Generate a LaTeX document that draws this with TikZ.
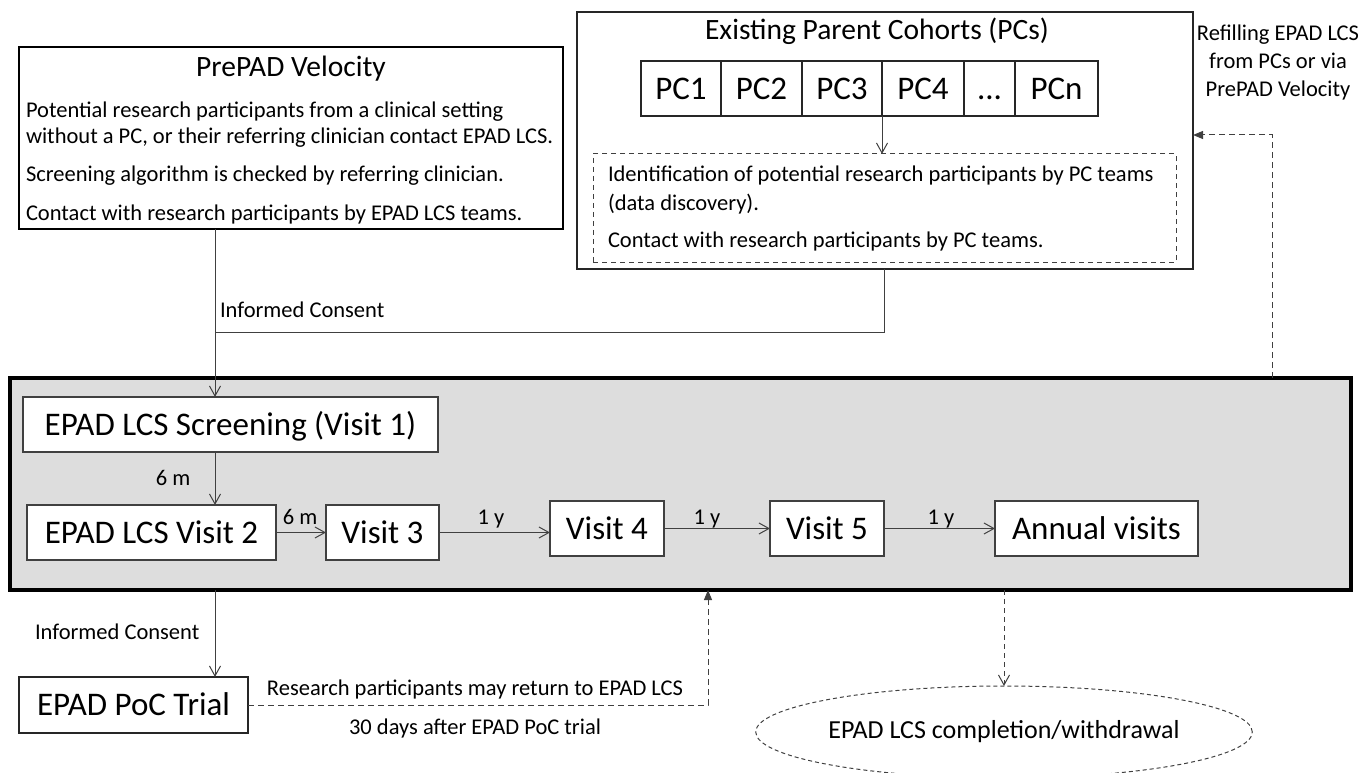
\documentclass[tikz,border=0pt]{standalone}
\usepackage{fontspec}
\setmainfont{Carlito}
\usetikzlibrary{arrows.meta,shapes.geometric,calc}
\definecolor{lc}{HTML}{404040}
\definecolor{gfill}{HTML}{DDDDDD}
\begin{document}
\begin{tikzpicture}[x=1pt,y=-1pt,
  every node/.style={inner sep=0pt,outer sep=0pt},
  txt/.style={font=\fontsize{22.5}{27}\selectfont},
  ttl/.style={font=\fontsize{29.5}{35}\selectfont},
  big/.style={font=\fontsize{33}{40}\selectfont, text height=21.5pt, text depth=0pt},
  wbox/.style={draw=lc, line width=1.2pt, fill=white, rectangle, minimum height=55pt, big},
  cell/.style={draw=black!85, line width=1.2pt, rectangle, minimum height=55pt, big},
  conn/.style={draw=lc, line width=1pt},
  arr/.style={conn, -{Straight Barb[length=10pt,width=11pt,line width=1pt]}},
  darr/.style={conn, dash pattern=on 6pt off 4pt, -{Triangle[length=10pt,width=8pt]}},
]
\useasboundingbox (0,0) rectangle (1363,773);

% PrePAD Velocity box
\node[draw=black, line width=2.5pt, minimum width=544pt, minimum height=182pt] (pre) at (291,138) {};
\node[ttl, anchor=base] (pret) at (291,77) {PrePAD Velocity};
\node[txt, anchor=base west] (pre1) at (26,118) {Potential research participants from a clinical setting};
\node[txt, anchor=base west] (pre2) at (26,144) {without a PC, or their referring clinician contact EPAD LCS.};
\node[txt, anchor=base west] (pre3) at (26,182) {Screening algorithm is checked by referring clinician.};
\node[txt, anchor=base west] (pre4) at (26,220) {Contact with research participants by EPAD LCS teams.};

% Existing Parent Cohorts box
\node[draw=black!85, line width=1.5pt, minimum width=616pt, minimum height=257pt] (pc) at (885,140.5) {};
\node[ttl, anchor=base] (pct) at (877,40) {Existing Parent Cohorts (PCs)};
\node[cell, minimum width=80pt] (c1) at (681,88.5) {PC1};
\node[cell, minimum width=81pt] (c2) at (761.5,88.5) {PC2};
\node[cell, minimum width=80pt] (c3) at (842,88.5) {PC3};
\node[cell, minimum width=82pt] (c4) at (923,88.5) {PC4};
\node[cell, minimum width=51pt] (c5) at (989.5,88.5) {...};
\node[cell, minimum width=83pt] (c6) at (1056.5,88.5) {PCn};
\node[draw=lc, line width=1pt, dash pattern=on 5pt off 4pt, minimum width=583pt, minimum height=108pt] (dbox) at (884.5,208) {};
\node[txt, anchor=base west] (d1) at (608,182) {Identification of potential research participants by PC teams};
\node[txt, anchor=base west] (d2) at (608,210) {(data discovery).};
\node[txt, anchor=base west] (d3) at (608,247) {Contact with research participants by PC teams.};
\draw[arr] (c3.south east) -- (c3.south east |- dbox.north);

% Refilling note
\node[txt, anchor=base] (rf1) at (1278,41) {Refilling EPAD LCS};
\node[txt, anchor=base] (rf2) at (1278,69) {from PCs or via};
\node[txt, anchor=base] (rf3) at (1278,97) {PrePAD Velocity};

% Main grey box
\node[draw=black, line width=4pt, fill=gfill, minimum width=1341pt, minimum height=212pt] (main) at (680.5,484) {};
\node[wbox, minimum width=415pt] (scr) at (230.5,424.5) {EPAD LCS Screening (Visit 1)};
\node[wbox, minimum width=249pt] (v2) at (151.5,532.5) {EPAD LCS Visit 2};
\node[wbox, minimum width=113pt] (v3) at (382.5,532.5) {Visit 3};
\node[wbox, minimum width=114pt] (v4) at (607,528.5) {Visit 4};
\node[wbox, minimum width=114pt] (v5) at (827,528.5) {Visit 5};
\node[wbox, minimum width=203pt] (ann) at (1096.5,528.5) {Annual visits};

% coordinates for connector routing
\coordinate (j1) at (215,332);
\coordinate (pcout) at (884,332);
\coordinate (rf) at (1272,135);
\coordinate (ret) at (708,705);

% Inflow connectors
\draw[conn] (pc.south -| pcout) -- (pcout) -- (j1);
\draw[arr] (pre.south -| j1) -- (scr.north -| j1);
\node[txt, anchor=base west] (ic1) at (220,317) {Informed Consent};

% Visits
\draw[arr] (scr.south -| j1) -- (v2.north -| j1);
\node[txt, anchor=base] (l1) at (173,485) {6 m};
\draw[arr] (v2.east) -- (v3.west);
\node[txt, anchor=base] (l2) at (300,524) {6 m};
\draw[arr] (v3.east) -- (v3.east -| v4.west);
\node[txt, anchor=base] (l3) at (491,524) {1 y};
\draw[arr] (v4.east) -- (v5.west);
\node[txt, anchor=base] (l4) at (707,524) {1 y};
\draw[arr] (v5.east) -- (ann.west);
\node[txt, anchor=base] (l5) at (941,524) {1 y};

% Refill dashed arrow
\draw[darr] (main.north -| rf) -- (rf) -- (pc.east |- rf);

% PoC trial
\node[draw=black!85, line width=1.5pt, minimum width=229pt, minimum height=56pt, big] (poc) at (133.5,705) {EPAD PoC Trial};
\draw[arr] (main.south -| j1) -- (poc.north -| j1);
\node[txt, anchor=base west] (ic2) at (35,639) {Informed Consent};
\draw[darr] (poc.east) -- (ret) -- (main.south -| ret);
\node[txt, anchor=base] (r1) at (475,695) {Research participants may return to EPAD LCS};
\node[txt, anchor=base] (r2) at (475,734) {30 days after EPAD PoC trial};

% Completion ellipse
\node[ellipse, draw=lc, line width=1pt, dash pattern=on 4pt off 3pt, minimum width=422pt, minimum height=92pt, font=\fontsize{26}{31}\selectfont] (ell) at (1004,732) {EPAD LCS completion/withdrawal};
\draw[arr, dash pattern=on 5pt off 4pt] (main.south -| ell.north) -- (ell.north);

\end{tikzpicture}
\end{document}
